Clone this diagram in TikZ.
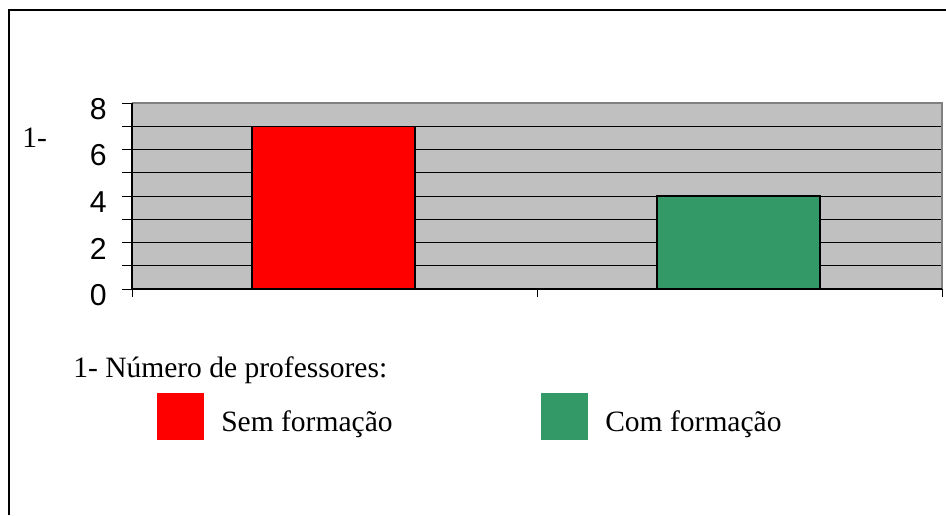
\documentclass[tikz,border=0pt]{standalone}
\usepackage{fontspec}
\setmainfont{Liberation Serif}
\setsansfont{Liberation Sans}
\usetikzlibrary{positioning}
\definecolor{cRed}{RGB}{255,0,0}
\definecolor{cGreen}{RGB}{51,153,102}
\definecolor{cGrey}{RGB}{192,192,192}
\definecolor{cDark}{RGB}{128,128,128}

\begin{document}
\begin{tikzpicture}[
        num/.style={font=\sffamily\fontsize{21.5}{25}\selectfont, anchor=east, inner sep=0pt, yshift=-0.15cm},
        txt/.style={font=\fontsize{21}{25}\selectfont, inner sep=0pt, anchor=base west},
        swatch/.style={minimum width=1.175cm, minimum height=1.175cm, inner sep=0pt}
    ]
        \useasboundingbox (0,0) rectangle (23.65,12.875);
        \draw[line width=1.4pt] (0.225,0) -- (0.225,12.625) -- (23.65,12.625);

        % chart
        \begin{scope}[shift={(3.3,5.65)}, y=0.58125cm]
            \fill[cGrey] (0,0) rectangle (20.25,8);
            \foreach \v in {1,...,7}
                \draw[line width=0.6pt] (0,\v) -- (20.25,\v);
            \draw[cDark, line width=0.8pt] (0,8) -- (20.25,8) -- (20.25,0);
            \draw[fill=cRed, line width=1pt] (3,0) rectangle (7.075,7);
            \draw[fill=cGreen, line width=1pt] (13.125,0) rectangle (17.2,4);
            \draw[line width=0.8pt] (0,8) -- (0,0) -- (20.25,0);
            \foreach \v in {0,...,8}
                \draw[line width=0.6pt] (-0.25,\v) -- (0,\v);
            \foreach \x in {0,10.125,20.25}
                \draw[line width=0.6pt] (\x,0) -- ++(0,-0.2cm);
            \foreach \v in {0,2,...,8}
                \node[num] (y\v) at (-0.625,\v) {\v};
        \end{scope}
        \node[txt] (axisLbl) at (0.55,9.175) {1-};

        % legend
        \node[txt] (title) at (1.825,3.425) {1- Número de professores:};
        \node[swatch, fill=cRed] (semBox) at (4.5125,2.4625) {};
        \node[txt] (sem) at (5.525,2.1) {Sem formação};
        \node[swatch, fill=cGreen] (comBox) at (14.1125,2.4625) {};
        \node[txt] (com) at (15.125,2.1) {Com formação};
    \end{tikzpicture}
\end{document}
